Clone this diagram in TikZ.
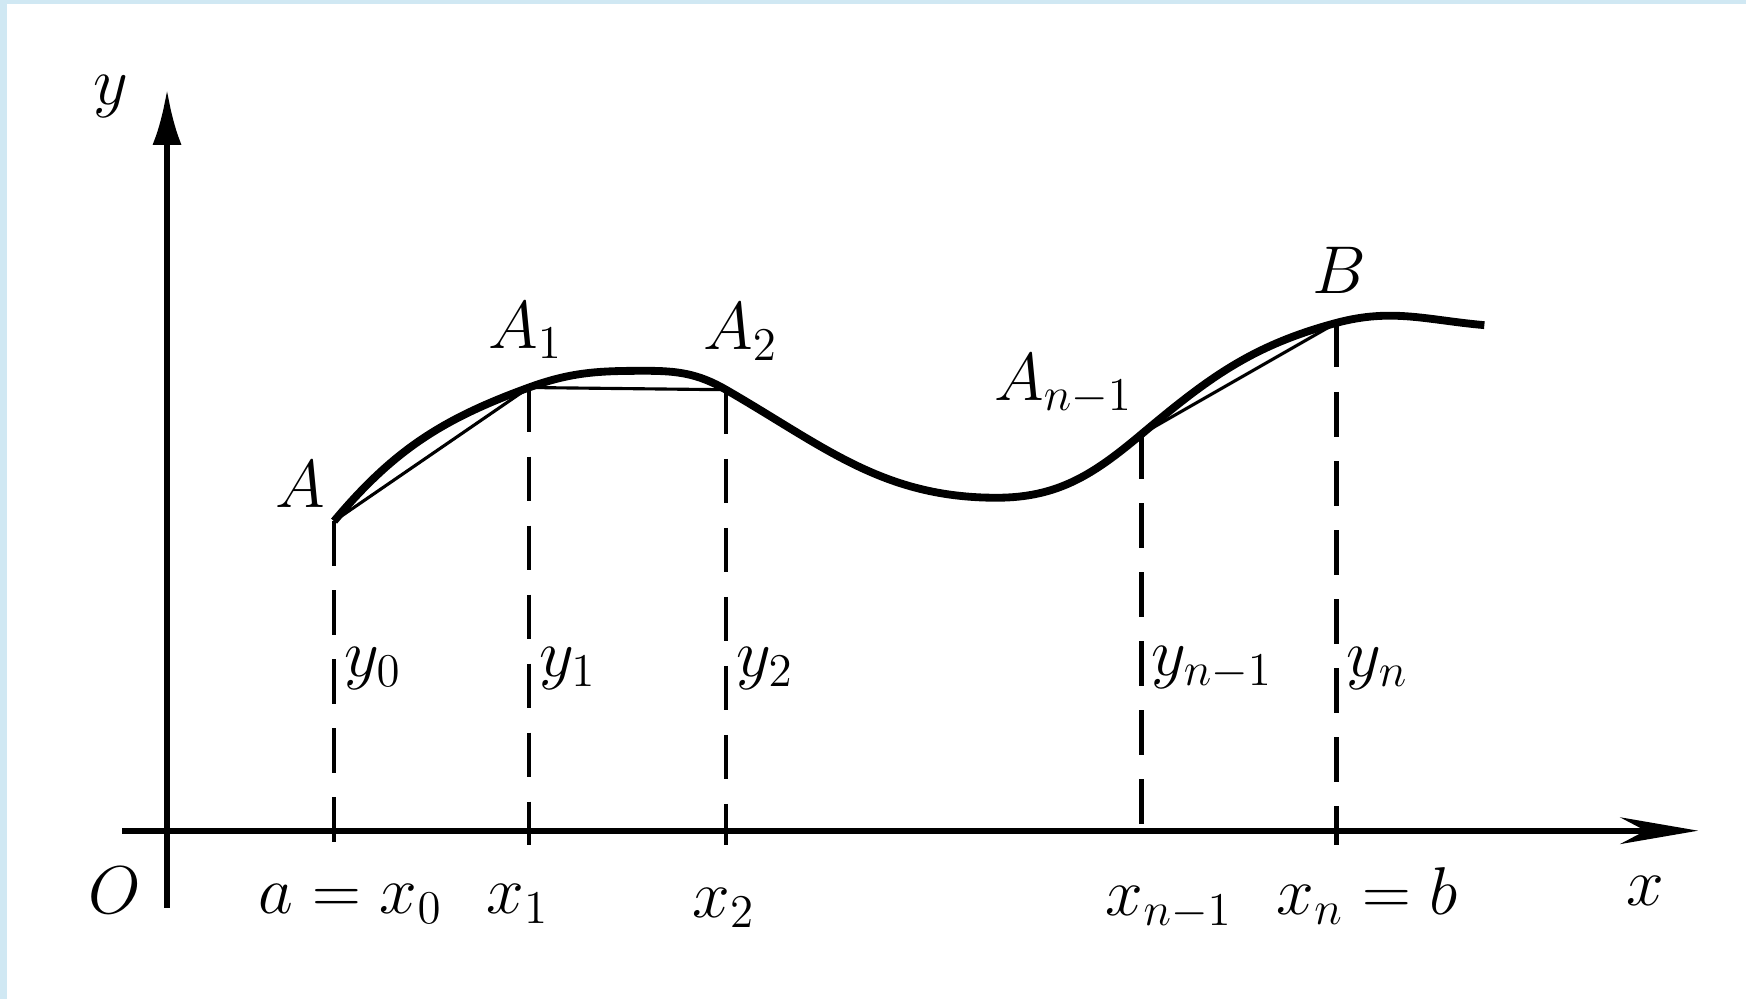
\documentclass[tikz,border=0pt]{standalone}
\usetikzlibrary{arrows.meta}
\definecolor{frameblue}{RGB}{208,232,243}
\begin{document}
\begin{tikzpicture}[
  axis/.style={line width=1.5pt},
  ordline/.style={line width=1.2pt,dash pattern=on 4mm off 2.2mm},
  chord/.style={line width=0.8pt},
  lbl/.style={font=\fontsize{17}{20}\selectfont,inner sep=1pt}]
  \useasboundingbox (0,0) rectangle (15.68,8.97);
  \fill[frameblue] (0,0) rectangle (0.06,8.97);
  \fill[frameblue] (0,8.93) rectangle (15.68,8.97);
  % axes
  \coordinate (xs) at (1.10,1.51);
  \coordinate (xe) at (15.25,1.51);
  \coordinate (ys) at (1.50,0.82);
  \coordinate (ye) at (1.50,8.17);
  \draw[axis,-{Stealth[length=7mm,width=2.4mm]}] (xs) -- (xe);
  \draw[axis,-{Latex[length=5mm,width=2.6mm]}] (ys) -- (ye);
  \node[lbl] (xl) at (14.78,0.97) {$x$};
  \node[lbl] (yl) at (1.00,8.10) {$y$};
  \node[lbl] (o) at (1.03,0.97) {$O$};
  % points of the curve
  \coordinate (A) at (3.00,4.29);
  \coordinate (A1) at (4.75,5.49);
  \coordinate (A2) at (6.52,5.47);
  \coordinate (An) at (10.25,5.07);
  \coordinate (B) at (12.00,6.07);
  \coordinate (top) at (5.80,5.64);
  \coordinate (low) at (8.95,4.50);
  \coordinate (end) at (13.33,6.05);
  \draw[line width=2pt] (A) to[out=50,in=200] (A1) to[out=20,in=180] (top)
    to[out=0,in=150] (A2) to[out=-30,in=180] (low) to[out=0,in=220] (An)
    to[out=40,in=195] (B) to[out=15,in=175] (end);
  % chords
  \draw[chord] (A) -- (A1) -- (A2);
  \draw[chord] (An) -- (B);
  % ordinates
  \foreach \p in {A,A1,A2,An,B}
    \draw[ordline] (\p) -- ([yshift=-1.3mm]\p |- xs);
  \node[lbl] (lA) at (2.70,4.62) {$A$};
  \node[lbl] (lA1) at (4.72,6.00) {$A_1$};
  \node[lbl] (lA2) at (6.65,5.99) {$A_2$};
  \node[lbl] (lAn) at (9.55,5.52) {$A_{n-1}$};
  \node[lbl] (lB) at (12.03,6.54) {$B$};
  \foreach \xx/\s [count=\i] in {3.05/0,4.80/1,6.57/2,10.30/{n-1},12.05/n}
    \node[lbl,anchor=west] (y\i) at (\xx,2.97) {$y_{\s}$};
  \node[lbl] (x0) at (3.15,0.85) {$a=x_0$};
  \node[lbl] (x1) at (4.65,0.85) {$x_1$};
  \node[lbl] (x2) at (6.50,0.82) {$x_2$};
  \node[lbl] (xn1) at (10.50,0.82) {$x_{n-1}$};
  \node[lbl] (xn) at (12.28,0.92) {$x_n=b$};
\end{tikzpicture}
\end{document}
